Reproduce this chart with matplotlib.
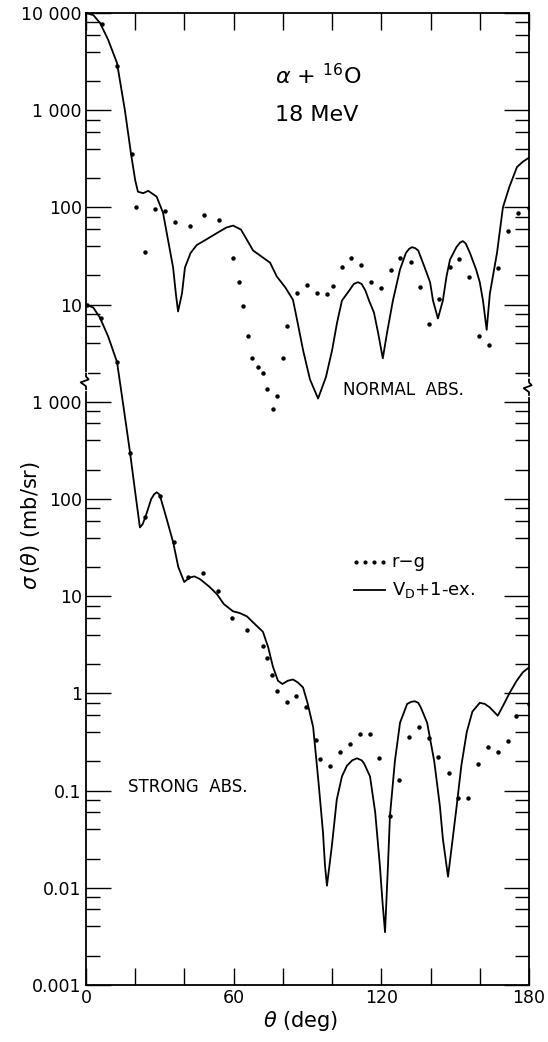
import numpy as np
import matplotlib
matplotlib.use("Agg")
import matplotlib.pyplot as plt
from matplotlib.ticker import FixedLocator, NullFormatter

plt.rcParams['font.family'] = ['DejaVu Sans']
plt.rcParams['mathtext.fontset'] = 'dejavusans'

# upper set (NORMAL ABS.), values read on the upper (offset) scale
normal_curve_deg = [0, 3, 5.7, 9, 12.6, 15.8, 18.3, 20, 21.1, 23.2, 25.3, 28.7, 31.3,
                    35.4, 36.5, 37.4, 39, 40.2, 42.5, 45, 49, 54, 57, 59.8, 63, 67.9, 74.8,
                    77.5, 81, 84.1, 86, 88.2, 91, 94.3, 97.5, 100, 102, 104, 107, 108.8,
                    110.5, 112, 113.5, 115, 117, 118.7, 120.6, 122.3, 124.7, 127.6, 130,
                    131.3, 132.5, 133.8, 135, 137.5, 139.8, 141, 143, 145, 146.5, 147.9,
                    150.5, 152, 153.1, 154.3, 156, 158.5, 160, 161.3, 162.8, 164.1, 167,
                    169.4, 172, 175.1, 177.5, 180]
normal_curve_val = [10000, 9500, 7900, 5300, 3060, 1000, 355, 190, 145, 140, 148, 129, 88,
                    24, 13, 8.5, 13, 24, 34, 41, 47, 56, 62, 65, 59, 36, 27,
                    19.5, 15, 11.2, 6.5, 3.4, 1.7, 1.08, 1.8, 3.4, 6.5, 11, 14, 16.3,
                    17, 16.3, 14, 11, 8.3, 5.1, 2.8, 5.1, 11, 23, 34,
                    37.5, 39, 38, 36, 24.5, 17, 11, 7.2, 11, 19.6, 29,
                    39, 43.5, 45, 42.5, 34, 23, 17, 11, 5.5, 13, 34,
                    100, 162, 260, 295, 325]
normal_dots_deg = [6.5, 12.6, 18.7, 20.3, 24.0, 28.0, 32.1, 36.2, 42.3, 48.0, 54.0, 59.8,
                   62.1, 63.8, 65.8, 67.4, 69.9, 71.9, 73.5, 75.9, 77.6, 80.0, 81.7, 85.7,
                   89.8, 93.9, 97.9, 100.4, 104.0, 107.7, 111.7, 115.8, 119.8, 123.9,
                   127.6, 132.0, 135.7, 139.4, 143.4, 147.9, 151.6, 155.7, 159.7, 163.7,
                   167.4, 171.5, 175.5, 179.9]
normal_dots_val = [7700, 2850, 355, 101, 35, 97, 92, 71, 65, 83, 74, 30,
                   17, 9.6, 4.8, 2.85, 2.3, 2.0, 1.37, 0.85, 1.16, 2.85, 6.0, 13.2,
                   15.8, 13.2, 12.9, 15.6, 24.4, 30, 25.7, 17.2, 14.7, 22.8,
                   30, 27.5, 15.1, 6.3, 11.5, 24.4, 29.5, 19.4, 4.7, 3.8,
                   24, 57, 87, 99]

# lower set (STRONG ABS.)
strong_curve_deg = [0, 3, 5.7, 9, 12.6, 15.5, 17.9, 20, 21.9, 23, 24.2, 26.5, 27.7, 28.7,
                    29.6, 30.1, 32.5, 35.4, 37.5, 39.9, 42, 44, 46.3, 50, 53.2, 56, 59.7,
                    62.5, 65.4, 68.5, 71.9, 74, 75.9, 78, 79.8, 82, 84.1, 86, 88.2, 90,
                    92.3, 94.5, 96.3, 97.1, 97.9, 98.8, 99.9, 101.9, 104, 106, 108.2,
                    110.1, 112, 113, 115.4, 117.5, 119.4, 120.5, 121.5, 122.7, 123.5,
                    125.5, 127.6, 130.5, 132.2, 133.6, 135, 136, 138.6, 141.5, 143.8, 145,
                    147.1, 149, 150.6, 152.5, 154.7, 157, 160, 162, 164, 167.3, 169.5,
                    172.2, 175, 177.5, 180]
strong_curve_val = [10000, 9300, 7300, 4700, 2570, 800, 300, 117, 51, 55, 66, 100, 112, 117,
                    113, 107, 66, 36, 20, 14, 15.5, 16, 15, 12.6, 10.5, 8.3, 7,
                    6.7, 6.2, 5.2, 4.3, 3, 1.9, 1.35, 1.25, 1.35, 1.39, 1.3, 1.15, 0.8,
                    0.45, 0.12, 0.037, 0.017, 0.0105, 0.016, 0.027, 0.081, 0.14, 0.18, 0.205,
                    0.215, 0.205, 0.19, 0.14, 0.06, 0.017, 0.007, 0.0035, 0.017, 0.055,
                    0.2, 0.5, 0.78, 0.82, 0.83, 0.8, 0.72, 0.5, 0.2, 0.069, 0.032,
                    0.013, 0.032, 0.069, 0.18, 0.40, 0.65, 0.8, 0.78, 0.72, 0.59, 0.75,
                    1.02, 1.35, 1.65, 1.85]
strong_dots_deg = [0.4, 6.1, 12.6, 17.9, 24.0, 30.1, 35.8, 41.6, 47.7, 53.6, 59.3, 65.4,
                   71.9, 73.5, 75.5, 77.6, 81.7, 85.3, 89.4, 93.4, 95.1, 99.1, 103.2,
                   107.3, 111.3, 115.4, 119.0, 123.5, 127.2, 131.2, 135.3, 139.4, 143.0,
                   147.5, 151.2, 155.2, 159.3, 163.3, 167.4, 171.5, 174.7, 180.0]
strong_dots_val = [10000, 7200, 2570, 300, 66, 107, 36, 15.7, 17.4, 11.4, 5.9, 4.5,
                   3.05, 2.3, 1.53, 1.05, 0.81, 0.93, 0.73, 0.33, 0.21, 0.18, 0.25,
                   0.30, 0.38, 0.38, 0.215, 0.055, 0.13, 0.36, 0.45, 0.35, 0.22,
                   0.15, 0.083, 0.083, 0.19, 0.28, 0.25, 0.32, 0.58, 0.78]

lower_ticks = [1e-3, 1e-2, 1e-1, 1, 10, 100, 1000]
lower_labels = ['0.001', '0.01', '0.1', '1', '10', '100', '1 000']
upper_ticks = [10, 100, 1000, 10000]
upper_labels = ['10', '100', '1 000', '10 000']
offset = 1000.0  # upper set is drawn 3 decades higher

fig = plt.figure(figsize=(5.48, 10.42), dpi=100)
ax = fig.add_axes([86/548, 1 - 985/1042, (529-86)/548, (985-13)/1042])
ax.set_yscale('log')
ax.set_xlim(0, 180)
ax.set_ylim(1e-3, 1e7)

k = dict(color='black')
ax.plot(normal_curve_deg, np.array(normal_curve_val) * offset, lw=1.3, **k)
ax.plot(normal_dots_deg, np.array(normal_dots_val) * offset, 'o', ms=2.2, **k)
ax.plot(strong_curve_deg, strong_curve_val, lw=1.3, **k)
ax.plot(strong_dots_deg, strong_dots_val, 'o', ms=2.2, **k)

# ticks
yt = lower_ticks + [v * offset for v in upper_ticks]
ax.yaxis.set_major_locator(FixedLocator(yt))
ax.set_yticklabels(lower_labels + upper_labels)
minors = [m * 10.0**e for e in range(-3, 7) for m in (2, 4, 6, 8)]
ax.yaxis.set_minor_locator(FixedLocator(minors))
ax.yaxis.set_minor_formatter(NullFormatter())
ax.set_xticks([0, 60, 120, 180])
ax.set_xticks(range(0, 181, 20), minor=True)
ax.tick_params(which='both', direction='in', right=True, top=True, width=1.0,
               labelsize=12.5, pad=3)
ax.tick_params(axis='y', which='major', length=18)
ax.tick_params(axis='y', which='minor', length=10)
ax.tick_params(axis='x', which='both', length=12)
for s in ax.spines.values():
    s.set_linewidth(1.3)

# axis breaks
for xb, yb in [(0.0, 10**3.21), (1.0, 10**3.15)]:
    ya = (np.log10(yb) + 3) / 10
    ax.plot([xb, xb], [ya - 0.008, ya + 0.008], color='white', lw=3,
            transform=ax.transAxes, clip_on=False, zorder=5)
    ax.plot([xb, xb, xb - 0.012, xb + 0.006, xb, xb],
            [ya - 0.008, ya - 0.005, ya - 0.001, ya + 0.002, ya + 0.005, ya + 0.008],
            color='black', lw=1.3, transform=ax.transAxes, clip_on=False, zorder=6)

ax.text(0.524, 0.936, r'$\alpha$ + $^{16}$O', transform=ax.transAxes, ha='center',
        va='center', fontsize=16)
ax.text(0.521, 0.895, '18 MeV', transform=ax.transAxes, ha='center', va='center',
        fontsize=16)
ax.text(0.58, 0.612, 'NORMAL  ABS.', transform=ax.transAxes, ha='left', va='center',
        fontsize=12)
ax.text(0.095, 0.204, 'STRONG  ABS.', transform=ax.transAxes, ha='left', va='center',
        fontsize=12)

# legend
lx0, lx1 = (354 - 86) / 443, (385 - 86) / 443
ly1, ly2 = (985 - 562) / 972, (985 - 590) / 972
ax.plot(np.linspace(lx0 + 0.005, lx1 - 0.005, 4), [ly1] * 4, 'o', ms=2.0,
        transform=ax.transAxes, **k)
ax.text(lx1 + 0.015, ly1, 'r\u2212g', transform=ax.transAxes, va='center', fontsize=13)
ax.plot([lx0, lx1], [ly2, ly2], lw=1.3, transform=ax.transAxes, **k)
ax.text(lx1 + 0.015, ly2, r'V$_{\mathrm{D}}$+1-ex.', transform=ax.transAxes,
        va='center', fontsize=13)

fig.text(0.055, 0.496, r'$\sigma\,(\theta)$ (mb/sr)', rotation=90, ha='center',
         va='center', fontsize=15)
fig.text(0.548, 0.020, r'$\theta$ (deg)', ha='center', va='center', fontsize=15)

fig.savefig('out.png', dpi=100)
